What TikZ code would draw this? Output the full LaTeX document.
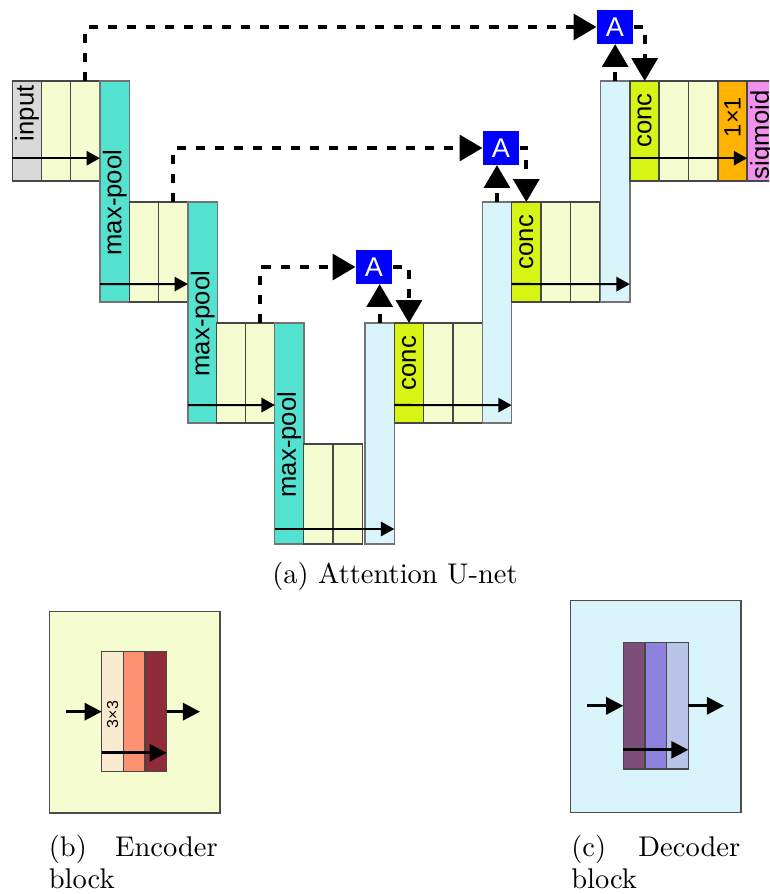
\documentclass[tikz,border=0pt]{standalone}
\usepackage{fontspec}
\newfontfamily\lblfont{Liberation Sans}
\usetikzlibrary{arrows.meta,positioning}
\definecolor{inpgrey}{RGB}{217,217,217}
\definecolor{encyel}{RGB}{245,252,208}
\definecolor{pooltl}{RGB}{84,226,208}
\definecolor{decblu}{RGB}{218,244,251}
\definecolor{conclm}{RGB}{214,245,20}
\definecolor{outorg}{RGB}{255,178,0}
\definecolor{sigpnk}{RGB}{240,146,236}
\definecolor{gateblu}{RGB}{0,0,255}
\definecolor{cva}{RGB}{249,234,208}
\definecolor{cvb}{RGB}{252,146,114}
\definecolor{cvc}{RGB}{145,43,55}
\definecolor{dca}{RGB}{125,78,120}
\definecolor{dcb}{RGB}{143,130,222}
\definecolor{dcc}{RGB}{186,196,230}
\begin{document}
\begin{tikzpicture}[x=0.351pt,y=-0.351pt,
  col/.style={draw=black!72,line width=0.5pt,inner sep=0,outer sep=0,anchor=north west,minimum width=10.3pt,minimum height=35.1pt},
  tall/.style={col,draw=black!55,minimum height=77.6pt},
  kern/.style={col,minimum width=7.6pt},
  lbl/.style={font=\lblfont\fontsize{9}{9}\selectfont,rotate=90,inner sep=0},
  gate/.style={fill=gateblu,text=white,inner sep=0,minimum width=12.6pt,minimum height=11.6pt,font=\lblfont\fontsize{9.5}{9.5}\selectfont},
  skip/.style={line width=1.4pt,dash pattern=on 3.2pt off 3.5pt,-{Triangle[length=8pt,width=9pt]}},
  flow/.style={line width=0.75pt,-{Triangle[length=4.7pt,width=5pt]}},
  bigflow/.style={line width=1pt,-{Triangle[length=6pt,width=6pt]}},
  captxt/.style={font=\fontsize{10}{11.2}\selectfont,inner sep=0}]
\path[use as bounding box,clip] (0,0) rectangle (769,894);
% encoder path
\node[col,fill=inpgrey] (in) at (12.3,81) {};
\node[col,fill=encyel] (e1a) at (41.3,81) {};
\node[col,fill=encyel] (e1b) at (70.6,81) {};
\node[tall,fill=pooltl] (p1) at (100,81) {};
\node[col,fill=encyel] (e2a) at (129.3,202) {};
\node[col,fill=encyel] (e2b) at (158.6,202) {};
\node[tall,fill=pooltl] (p2) at (188,202) {};
\node[col,fill=encyel] (e3a) at (216.5,323) {};
\node[col,fill=encyel] (e3b) at (245.5,323) {};
\node[tall,fill=pooltl] (p3) at (274.5,323) {};
\node[col,fill=encyel] (b1) at (303.5,444) {};
\node[col,fill=encyel] (b2) at (333.3,444) {};
% decoder path
\node[tall,fill=decblu] (d3) at (365,323) {};
\node[col,fill=conclm] (c3) at (394.3,323) {};
\node[col,fill=encyel] (e4a) at (423.6,323) {};
\node[col,fill=encyel] (e4b) at (452.9,323) {};
\node[tall,fill=decblu] (d2) at (482.3,202) {};
\node[col,fill=conclm] (c2) at (511.6,202) {};
\node[col,fill=encyel] (e5a) at (540.9,202) {};
\node[col,fill=encyel] (e5b) at (570.3,202) {};
\node[tall,fill=decblu] (d1) at (600.5,81) {};
\node[col,fill=conclm] (c1) at (630,81) {};
\node[col,fill=encyel] (e6a) at (659,81) {};
\node[col,fill=encyel] (e6b) at (688.3,81) {};
\node[col,fill=outorg] (o1) at (717.8,81) {};
\node[col,fill=sigpnk] (sg) at (747.5,81) {};
% column labels
\node[lbl,anchor=east] (tin) at ([yshift=-1.4pt]in.north) {input};
\node[lbl] (tp1) at ([yshift=-3.9pt]p1.center) {max-pool};
\node[lbl] (tp2) at ([yshift=-3.9pt]p2.center) {max-pool};
\node[lbl] (tp3) at ([yshift=-3.9pt]p3.center) {max-pool};
\node[lbl,anchor=east] (tc3) at ([yshift=-4.4pt]c3.north) {conc};
\node[lbl,anchor=east] (tc2) at ([yshift=-4.4pt]c2.north) {conc};
\node[lbl,anchor=east] (tc1) at ([yshift=-4.2pt]c1.north) {conc};
\node[lbl,anchor=east,font=\lblfont\fontsize{8.3}{8.3}\selectfont] (to1) at ([yshift=-5.4pt]o1.north) {1×1};
\node[lbl,anchor=east] (tsg) at ([yshift=-3.2pt]sg.north) {sigmoid};
% flow through each level
\draw[flow] ([yshift=8pt]in.south west) -- ([yshift=8pt]e1b.south east);
\draw[flow] ([yshift=6.3pt]p1.south west) -- ([yshift=6.3pt]e2b.south east);
\draw[flow] ([yshift=6.3pt]p2.south west) -- ([yshift=6.3pt]e3b.south east);
\draw[flow] ([yshift=5.3pt]p3.south west) -- ([yshift=5.3pt]d3.south east);
\draw[flow] ([yshift=6.3pt]c3.south west) -- ([yshift=6.3pt]d2.south east);
\draw[flow] ([yshift=6.3pt]c2.south west) -- ([yshift=6.3pt]d1.south east);
\draw[flow] ([yshift=8pt]c1.south west) -- ([yshift=8pt]o1.south east);
% attention gates on the skips
\node[gate] (g1) at (615,27) {A};
\node[gate] (g2) at (501,148) {A};
\node[gate] (g3) at (374,267) {A};
\draw[skip] (e1b.north) |- (g1.west);
\draw[skip] (d1.north) -- (d1.north |- g1.south);
\draw[skip] (g1.east) -| (c1.north);
\draw[skip] (e2b.north) |- (g2.west);
\draw[skip] (d2.north) -- (d2.north |- g2.south);
\draw[skip] (g2.east) -| (c2.north);
\draw[skip] (e3b.north) |- (g3.west);
\draw[skip] (d3.north) -- (d3.north |- g3.south);
\draw[skip] (g3.east) -| (c3.north);
\node[captxt,anchor=base] (capa) at (395,583) {(a) Attention U-net};
% encoder block
\node[draw=black!70,line width=0.5pt,fill=encyel,inner sep=0,anchor=north west,minimum width=59.7pt,minimum height=70.6pt] (encbg) at (49,611) {};
\node[kern,fill=cva,minimum height=42.1pt] (k1) at (101.7,651.7) {};
\node[kern,fill=cvb,minimum height=42.1pt] (k2) at (123.3,651.7) {};
\node[kern,fill=cvc,minimum height=42.1pt] (k3) at (145,651.7) {};
\node[lbl,font=\lblfont\fontsize{5.6}{5.6}\selectfont] (tk) at ([yshift=-1pt]k1.center) {3×3};
\coordinate (encin) at (66,712);
\coordinate (encout) at (200,712);
\draw[bigflow] (encin |- k1.west) -- (k1.west);
\draw[bigflow] (k3.east) -- (encout |- k3.east);
\draw[bigflow] ([yshift=6.6pt]k1.south west) -- ([yshift=6.6pt]k3.south east);
\node[captxt,anchor=north west,text width=59.3pt,align=justify] (capb) at (48.3,835) {(b) Encoder block};
% decoder block
\node[draw=black!70,line width=0.5pt,fill=decblu,inner sep=0,anchor=north west,minimum width=59.7pt,minimum height=74.4pt] (decbg) at (570,600) {};
\node[kern,fill=dca,minimum height=44.3pt] (m1) at (623.3,642.7) {};
\node[kern,fill=dcb,minimum height=44.3pt] (m2) at (645,642.7) {};
\node[kern,fill=dcc,minimum height=44.3pt] (m3) at (666.7,642.7) {};
\coordinate (decin) at (587,705);
\coordinate (decout) at (724,706);
\draw[bigflow] (decin |- m1.west) -- (m1.west);
\draw[bigflow] (m3.east) -- (decout |- m3.east);
\draw[bigflow] ([yshift=6.7pt]m1.south west) -- ([yshift=6.7pt]m3.south east);
\node[captxt,anchor=north west,text width=59.3pt,align=justify] (capc) at (570.7,835) {(c) Decoder block};
\end{tikzpicture}
\end{document}
